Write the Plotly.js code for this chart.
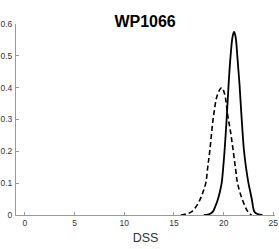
<!DOCTYPE html>
<html>
<head>
<meta charset="utf-8">
<script src="https://cdn.plot.ly/plotly-3.0.1.min.js"></script>
<style>html,body{margin:0;padding:0;background:#fff;}#chart{width:279px;height:249px;}</style>
</head>
<body>
<div id="chart"></div>
<script>
// Solid curve
const solidX = [18.0, 18.5, 18.9, 19.2, 19.4, 19.6, 19.8, 20.0, 20.1, 20.3, 20.5, 20.7, 20.9, 21.05, 21.2, 21.4, 21.6, 21.8, 22.04, 22.25, 22.5, 22.7, 22.85, 23.1, 23.4, 23.9];
const solidY = [0.0, 0.002, 0.01, 0.03, 0.047, 0.07, 0.1, 0.165, 0.205, 0.3, 0.41, 0.5, 0.56, 0.575, 0.56, 0.49, 0.41, 0.31, 0.205, 0.15, 0.1, 0.07, 0.047, 0.01, 0.003, 0.0];
// Dashed curve
const dashX = [15.7, 16.2, 16.75, 17.2, 17.6, 17.9, 18.2, 18.4, 18.6, 19.0, 19.4, 19.8, 20.1, 20.4, 20.7, 20.95, 21.2, 21.4, 21.9, 22.45, 22.8];
const dashY = [0.0, 0.003, 0.01, 0.025, 0.047, 0.07, 0.1, 0.15, 0.2, 0.315, 0.38, 0.40, 0.38, 0.315, 0.26, 0.205, 0.145, 0.1, 0.047, 0.01, 0.0];
const xTicks = [0, 5, 10, 15, 20, 25];
const yTicks = [0, 0.1, 0.2, 0.3, 0.4, 0.5, 0.6];
const yTickText = ['0', '0.1', '0.2', '0.3', '0.4', '0.5', '0.6'];

const font = 'Liberation Sans, Arial, Helvetica, sans-serif';
const traces = [
  {x: dashX, y: dashY, mode: 'lines', line: {color: '#000', width: 1.6, dash: '5px,3px', shape: 'spline'}, hoverinfo: 'none'},
  {x: solidX, y: solidY, mode: 'lines', line: {color: '#000', width: 1.8, shape: 'spline'}, hoverinfo: 'none'}
];
const layout = {
  width: 279, height: 249,
  margin: {l: 16, r: 4, t: 24, b: 34},
  paper_bgcolor: '#fff', plot_bgcolor: '#fff',
  showlegend: false,
  font: {family: font, color: '#333', size: 8.5},
  title: {text: '<b>WP1066</b>', font: {family: font, size: 16, color: '#000'}, x: 0.52, xanchor: 'center', y: 0.915, yanchor: 'middle'},
  xaxis: {
    range: [-0.9, 25.17], tickvals: xTicks, ticktext: xTicks.map(String),
    showgrid: false, zeroline: false, showline: true, linecolor: '#999', linewidth: 1,
    ticks: 'inside', ticklen: 3, tickcolor: '#999', tickwidth: 1,
    tickfont: {size: 8.5, color: '#333'}, ticklabelstandoff: 0,
    title: {text: 'DSS', font: {size: 12.5, color: '#333'}, standoff: 6}
  },
  yaxis: {
    range: [0, 0.6], tickvals: yTicks, ticktext: yTickText,
    showgrid: false, zeroline: false, showline: true, linecolor: '#999', linewidth: 1,
    ticks: 'inside', ticklen: 3, tickcolor: '#999', tickwidth: 1,
    tickfont: {size: 8.5, color: '#333'}, ticklabelstandoff: 1
  }
};
Plotly.newPlot('chart', traces, layout, {staticPlot: true, displayModeBar: false});
</script>
</body>
</html>
